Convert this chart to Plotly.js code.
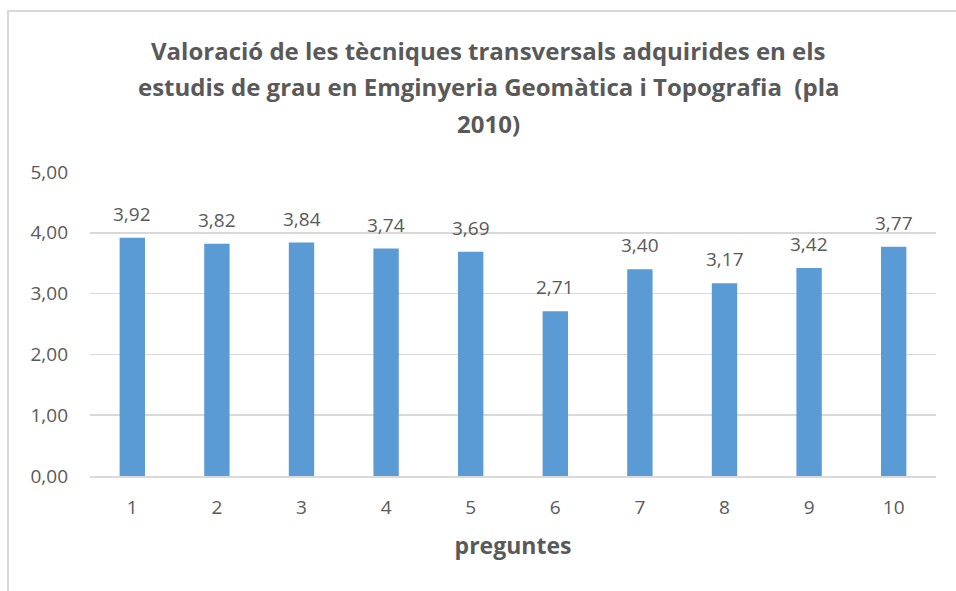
<!DOCTYPE html>
<html>
<head>
<meta charset="utf-8">
<script src="https://cdn.plot.ly/plotly-3.0.1.min.js"></script>
<style>
html,body{margin:0;padding:0;background:#fff;}
#wrap{position:relative;width:956px;height:591px;}
#chart{width:956px;height:591px;}
#frameL{position:absolute;left:7px;top:10px;width:2px;height:590px;background:#d9d9d9;pointer-events:none;}
#frameT{position:absolute;left:7px;top:10px;width:960px;height:2px;background:#d9d9d9;pointer-events:none;}
</style>
</head>
<body>
<div id="wrap">
<div id="chart"></div>
<div id="frameL"></div>
<div id="frameT"></div>
</div>
<script>
const categories = ["1","2","3","4","5","6","7","8","9","10"];
const values = [3.92, 3.82, 3.84, 3.74, 3.69, 2.71, 3.40, 3.17, 3.42, 3.77];
const yTickVals = [0, 1, 2, 3, 4, 5];
const yTickText = ["0,00","1,00","2,00","3,00","4,00","5,00"];
const titleLines = [
  "Valoració de les tècniques transversals adquirides en els",
  "estudis de grau en Emginyeria Geomàtica i Topografia  (pla",
  "2010)"
];
const labels = values.map(v => v.toFixed(2).replace('.', ','));

const font = "Open Sans, Noto Sans, sans-serif";
const grey = "#595959";

const trace = {
  type: "bar",
  x: categories,
  y: values,
  marker: {color: "#5b9bd5"},
  hoverinfo: "none"
};

const annotations = [];
values.forEach((v, i) => {
  annotations.push({
    x: i, y: v, xref: "x", yref: "y",
    text: labels[i], showarrow: false,
    yanchor: "bottom", yshift: 9,
    font: {family: font, size: 19, color: grey}
  });
});
const titleY = [1.401, 1.280, 1.161];
titleLines.forEach((t, i) => {
  annotations.push({
    x: 0.4716, y: titleY[i], xref: "paper", yref: "paper",
    xanchor: "center", yanchor: "middle",
    text: "<b>" + t + "</b>", showarrow: false,
    font: {family: font, size: 24, color: grey}
  });
});

const layout = {
  width: 956, height: 591,
  margin: {l: 90, r: 20, t: 172, b: 115},
  paper_bgcolor: "#fff", plot_bgcolor: "#fff",
  bargap: 0.70,
  showlegend: false,
  annotations: annotations,
  xaxis: {
    type: "category",
    range: [-0.5, 9.5],
    tickfont: {family: font, size: 19, color: grey},
    showgrid: false,
    showline: true, linecolor: "#d9d9d9", linewidth: 1.5,
    ticks: "", ticklen: 0, ticklabelstandoff: 14,
    title: {text: "<b>preguntes</b>", font: {family: font, size: 23, color: grey}, standoff: 18}
  },
  yaxis: {
    range: [0, 5],
    tickvals: yTickVals,
    ticktext: yTickText,
    tickfont: {family: font, size: 19, color: grey},
    showgrid: true, gridcolor: "#d9d9d9", gridwidth: 1.5,
    zeroline: false, showline: false,
    ticks: "", ticklabelstandoff: 21
  }
};

Plotly.newPlot("chart", [trace], layout, {displayModeBar: false, staticPlot: true});
</script>
</body>
</html>
